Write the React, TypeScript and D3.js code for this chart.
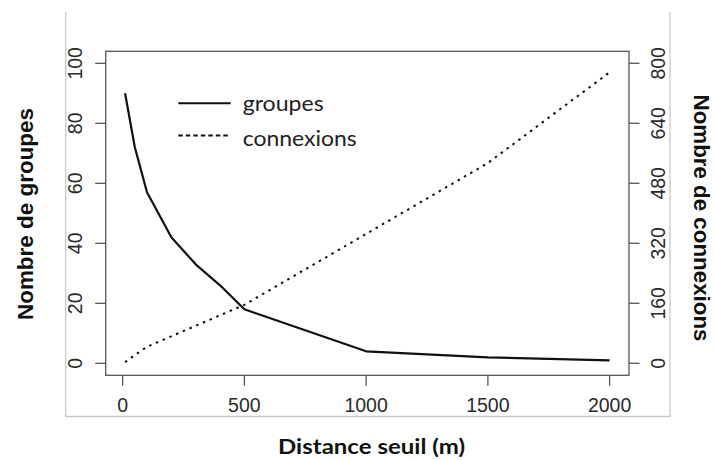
import React from "react";
import * as d3 from "d3";

const distances = [10, 50, 100, 200, 300, 400, 500, 1000, 1500, 2000];
const groupes = [90, 72, 57, 42, 33, 26, 18, 4, 2, 1];
const connexions = [3, 22, 44, 72, 100, 128, 156, 345, 534, 776];
const xTicks = [0, 500, 1000, 1500, 2000];
const leftTicks = [0, 20, 40, 60, 80, 100];
const rightTicks = [0, 160, 320, 480, 640, 800];
const legendLabels = ["groupes", "connexions"];

const W = 715;
const H = 460;
const box = { left: 105.7, right: 629, top: 51.3, bottom: 375.3 };

export default function App() {
  const x = d3.scaleLinear().domain([-69.6, 2079.6]).range([box.left, box.right]);
  const yL = d3.scaleLinear().domain([-4, 104]).range([box.bottom, box.top]);
  const yR = d3.scaleLinear().domain([-32, 832]).range([box.bottom, box.top]);

  const lineG = d3
    .line<number>()
    .x((_, i) => x(distances[i]))
    .y((d) => yL(d));
  const lineC = d3
    .line<number>()
    .x((_, i) => x(distances[i]))
    .y((d) => yR(d));

  const tickFont = "'Liberation Sans', Arial, sans-serif";
  const tickColor = "#2a2a2a";
  const axisColor = "#555";

  return (
    <svg
      width={W}
      height={H}
      style={{ position: "absolute", left: 0, top: 0, background: "#fff" }}
    >
      {/* outer light frame */}
      <path d="M65.7,12 V416.5 H670 V12" fill="none" stroke="#c8c8c8" strokeWidth={1.3} />

      {/* plot box */}
      <rect
        x={box.left}
        y={box.top}
        width={box.right - box.left}
        height={box.bottom - box.top}
        fill="none"
        stroke={axisColor}
        strokeWidth={1.3}
      />

      {/* x axis */}
      {xTicks.map((t) => (
        <g key={"x" + t}>
          <line x1={x(t)} x2={x(t)} y1={box.bottom} y2={box.bottom + 10.5} stroke={axisColor} strokeWidth={1.3} />
          <text
            x={x(t)}
            y={412}
            textAnchor="middle"
            fontFamily={tickFont}
            fontSize={19.5}
            fill={tickColor}
          >
            {t}
          </text>
        </g>
      ))}

      {/* left axis */}
      {leftTicks.map((t) => (
        <g key={"l" + t}>
          <line x1={box.left - 10.5} x2={box.left} y1={yL(t)} y2={yL(t)} stroke={axisColor} strokeWidth={1.3} />
          <text
            transform={`translate(75,${yL(t)}) rotate(-90)`}
            textAnchor="middle"
            dy="0.36em"
            fontFamily={tickFont}
            fontSize={19.5}
            fill={tickColor}
          >
            {t}
          </text>
        </g>
      ))}

      {/* right axis */}
      {rightTicks.map((t) => (
        <g key={"r" + t}>
          <line x1={box.right} x2={box.right + 10.5} y1={yR(t)} y2={yR(t)} stroke={axisColor} strokeWidth={1.3} />
          <text
            transform={`translate(658,${yR(t)}) rotate(-90)`}
            textAnchor="middle"
            dy="0.36em"
            fontFamily={tickFont}
            fontSize={19.5}
            fill={tickColor}
          >
            {t}
          </text>
        </g>
      ))}

      {/* series */}
      <path d={lineG(groupes) || ""} fill="none" stroke="#111" strokeWidth={2.2} strokeLinejoin="round" />
      <path d={lineC(connexions) || ""} fill="none" stroke="#111" strokeWidth={2} strokeDasharray="2.5,4.8" />

      {/* legend */}
      <line x1={178.3} x2={230.7} y1={103.3} y2={103.3} stroke="#111" strokeWidth={2} />
      <line x1={178.3} x2={230.7} y1={135.5} y2={135.5} stroke="#111" strokeWidth={2} strokeDasharray="4.5,3" />
      <text x={242.7} y={111} fontFamily="Lato, 'Open Sans', sans-serif" fontSize={21} fill="#222" textLength={81} lengthAdjust="spacingAndGlyphs">
        {legendLabels[0]}
      </text>
      <text x={242.7} y={145.7} fontFamily="Lato, 'Open Sans', sans-serif" fontSize={21} fill="#222" textLength={114} lengthAdjust="spacingAndGlyphs">
        {legendLabels[1]}
      </text>

      {/* axis titles */}
      <text
        transform="translate(25,214) rotate(-90)"
        textAnchor="middle"
        dy="0.36em"
        fontFamily={tickFont}
        fontWeight="bold"
        fontSize={22}
        fill="#111"
        textLength={212}
        lengthAdjust="spacingAndGlyphs"
      >
        Nombre de groupes
      </text>
      <text
        transform="translate(702,218) rotate(90)"
        textAnchor="middle"
        dy="0.36em"
        fontFamily={tickFont}
        fontWeight="bold"
        fontSize={22}
        fill="#111"
        textLength={247}
        lengthAdjust="spacingAndGlyphs"
      >
        Nombre de connexions
      </text>
      <text
        x={371.5}
        y={454}
        textAnchor="middle"
        fontFamily="Lato, 'Open Sans', sans-serif"
        fontWeight="bold"
        fontSize={20.5}
        fill="#111"
        textLength={187}
        lengthAdjust="spacingAndGlyphs"
      >
        Distance seuil (m)
      </text>
    </svg>
  );
}
